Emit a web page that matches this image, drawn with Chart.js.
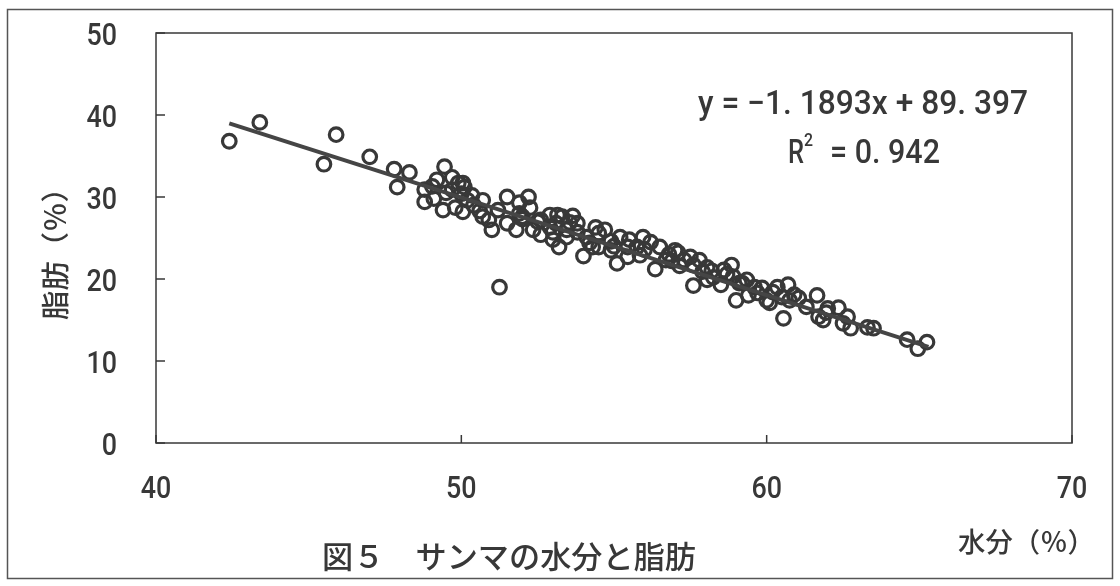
<!DOCTYPE html>
<html>
<head>
<meta charset="utf-8">
<script src="https://cdn.jsdelivr.net/npm/chart.js@4.4.1/dist/chart.umd.min.js"></script>
<style>
  html, body { margin: 0; padding: 0; background: #fff; }
  #wrap { width: 1120px; height: 586px; }
</style>
</head>
<body>
<div id="wrap"><canvas id="scatterChart" width="1120" height="586"></canvas></div>
<script>
// 水分 (%) and 脂肪 (%)
const waterX = [
  42.4, 43.4, 45.5, 45.9, 47.0, 47.8, 47.9, 48.3, 48.8, 49.2,
  49.45, 49.4, 49.7, 49.8, 49.9, 50.1, 50.35, 50.4, 50.7, 50.9,
  51.0, 51.5, 51.5, 51.8, 52.2, 52.25, 52.35, 52.6, 52.9, 53.1,
  53.2, 53.45, 53.65, 53.8, 53.45, 54.1, 54.0, 54.3, 54.7, 54.9,
  54.9, 55.1, 55.45, 55.5, 55.45, 55.85, 56.2, 56.35, 56.5, 56.8,
  57.0, 57.15, 57.5, 57.6, 57.6, 58.05, 58.25, 58.5, 58.85, 58.9,
  59.0, 59.35, 59.4, 59.85, 60.1, 60.35, 60.5, 60.7, 60.55, 61.05,
  61.65, 61.7, 61.85, 62.35, 62.65, 62.75, 63.3, 63.5, 64.6, 64.95,
  65.25, 51.25, 53.15, 53.55, 49.05, 48.8, 49.1, 50.0, 50.6, 51.9,
  52.0, 52.5, 53.0, 54.5, 54.2, 55.0, 56.0, 56.9, 57.3, 57.9,
  58.2, 58.7, 59.2, 59.6, 60.2, 60.9, 62.0, 50.05, 49.5, 50.05,
  51.2, 51.9, 52.0, 52.6, 52.9, 53.8, 53.0, 53.3, 54.4, 54.5,
  55.2, 55.75, 55.95, 56.7, 57.1, 57.8, 58.05, 58.6, 59.1, 59.7,
  60.0, 60.75, 61.3, 61.95, 62.5, 49.7, 50.2, 50.7
];
const fatY = [
  36.8, 39.1, 34.0, 37.6, 34.9, 33.4, 31.2, 33.0, 29.4, 32.1,
  33.7, 28.4, 32.4, 28.7, 31.7, 31.2, 30.2, 29.0, 29.6, 27.2,
  26.0, 30.0, 26.8, 26.0, 30.0, 28.7, 26.0, 25.4, 27.8, 26.8,
  23.9, 26.0, 27.7, 26.8, 25.1, 25.1, 22.8, 23.9, 26.0, 24.6,
  23.5, 21.9, 23.9, 24.8, 22.7, 22.9, 24.5, 21.2, 23.9, 23.0,
  23.5, 21.6, 22.7, 21.7, 19.2, 21.4, 20.2, 19.3, 21.7, 20.3,
  17.4, 19.9, 18.0, 18.9, 17.1, 19.0, 17.8, 19.3, 15.2, 17.7,
  18.0, 15.4, 15.0, 16.5, 15.4, 14.0, 14.1, 14.0, 12.6, 11.5,
  12.3, 19.0, 27.8, 26.9, 31.3, 30.9, 29.8, 30.4, 28.3, 28.0,
  27.3, 27.0, 25.7, 25.6, 24.4, 24.0, 23.6, 22.2, 22.3, 20.9,
  21.0, 20.6, 19.5, 19.0, 18.4, 18.1, 16.4, 31.7, 30.5, 28.2,
  28.4, 29.3, 27.6, 27.2, 26.3, 25.7, 24.8, 27.6, 26.3, 23.9,
  25.1, 23.9, 25.1, 22.3, 23.2, 22.3, 19.9, 21.1, 19.5, 18.3,
  17.4, 17.4, 16.6, 15.9, 14.6, 30.9, 29.6, 27.6
];
// linear trend, ends as drawn
const trendX = [42.4, 65.3];
const trendY = [38.97, 11.73];

const xTicks = [40, 50, 60, 70];
const yTicks = [0, 10, 20, 30, 40, 50];

const ink = '#383838';
const numFont = 'Roboto, "Liberation Sans", sans-serif';
const jpFont = '"Noto Sans CJK JP", sans-serif';

const points = waterX.map((x, i) => ({ x: x, y: fatY[i] }));
const trend = trendX.map((x, i) => ({ x: x, y: trendY[i] }));

// draw text squeezed to a given width (the original uses a narrow face)
function fitText(ctx, text, x, y, width) {
    const squeeze = width / ctx.measureText(text).width;
    ctx.save();
    ctx.translate(x, y);
    ctx.scale(squeeze, 1);
    ctx.textAlign = 'left';
    ctx.fillText(text, 0, 0);
    ctx.restore();
    return width;
}

function narrowText(ctx, text, x, y, align, squeeze) {
    const w = ctx.measureText(text).width * squeeze;
    let left = x;
    if (align === 'center') left = x - w / 2;
    if (align === 'right') left = x - w;
    return fitText(ctx, text, left, y, w);
}

const framePlugin = {
    id: 'frame',
    afterDraw(chart) {
        const ctx = chart.ctx;
        const area = chart.chartArea;
        const xs = chart.scales.x;
        const ys = chart.scales.y;
        ctx.save();

        // outer border
        ctx.strokeStyle = '#555';
        ctx.lineWidth = 1.5;
        ctx.strokeRect(7.5, 9.5, 1105, 569);

        // plot frame
        ctx.strokeStyle = ink;
        ctx.lineWidth = 1.5;
        ctx.strokeRect(area.left, area.top, area.right - area.left, area.bottom - area.top);

        // inward tick marks
        ctx.beginPath();
        xTicks.forEach(v => {
            const px = xs.getPixelForValue(v);
            ctx.moveTo(px, area.bottom);
            ctx.lineTo(px, area.bottom - 8);
        });
        yTicks.forEach(v => {
            const py = ys.getPixelForValue(v);
            ctx.moveTo(area.left, py);
            ctx.lineTo(area.left + 9, py);
        });
        ctx.stroke();

        ctx.fillStyle = ink;
        ctx.textBaseline = 'middle';

        // tick labels
        ctx.font = '500 32px ' + numFont;
        xTicks.forEach(v => {
            narrowText(ctx, String(v), xs.getPixelForValue(v), 490, 'center', 0.84);
        });
        yTicks.forEach(v => {
            narrowText(ctx, String(v), 117, ys.getPixelForValue(v) + 4, 'right', 0.84);
        });

        // regression equation
        ctx.font = '500 33px ' + numFont;
        fitText(ctx, 'y = \u22121. 1893x + 89. 397', 698, 106, 330);
        fitText(ctx, 'R', 788, 155, 16);
        ctx.font = '500 19px ' + numFont;
        fitText(ctx, '2', 804, 141, 9);
        ctx.font = '500 33px ' + numFont;
        fitText(ctx, '= 0. 942', 830, 155, 110);

        // chart title
        ctx.font = '500 31px ' + jpFont;
        fitText(ctx, '図５\u3000サンマの水分と脂肪', 322, 556, 374);

        // x axis title
        ctx.font = '500 27px ' + jpFont;
        fitText(ctx, '水分（％）', 958, 542, 137);

        // y axis title
        ctx.save();
        ctx.translate(55, 320);
        ctx.rotate(-Math.PI / 2);
        ctx.font = '500 28px ' + jpFont;
        fitText(ctx, '脂肪（％）', 0, 0, 147);
        ctx.restore();

        ctx.restore();
    }
};

const ctx = document.getElementById('scatterChart').getContext('2d');
new Chart(ctx, {
    type: 'scatter',
    data: {
        datasets: [
            {
                label: 'trend',
                type: 'line',
                data: trend,
                borderColor: '#454545',
                borderWidth: 4,
                pointRadius: 0,
                fill: false,
                order: 0
            },
            {
                label: '脂肪',
                data: points,
                pointStyle: 'circle',
                pointRadius: 6.8,
                borderColor: ink,
                borderWidth: 3.2,
                backgroundColor: 'rgba(0,0,0,0)',
                order: 1
            }
        ]
    },
    options: {
        responsive: false,
        animation: false,
        layout: {
            padding: { left: 0, top: 33, right: 48, bottom: 0 }
        },
        plugins: {
            legend: { display: false },
            tooltip: { enabled: false }
        },
        scales: {
            x: {
                type: 'linear',
                min: 40,
                max: 70,
                afterBuildTicks: scale => { scale.ticks = xTicks.map(v => ({ value: v })); },
                afterFit: scale => { scale.height = 143; },
                ticks: { display: false },
                grid: { display: false, drawTicks: false },
                border: { display: false }
            },
            y: {
                type: 'linear',
                min: 0,
                max: 50,
                afterBuildTicks: scale => { scale.ticks = yTicks.map(v => ({ value: v })); },
                afterFit: scale => { scale.width = 156; },
                ticks: { display: false },
                grid: { display: false, drawTicks: false },
                border: { display: false }
            }
        }
    },
    plugins: [framePlugin]
});
</script>
</body>
</html>
